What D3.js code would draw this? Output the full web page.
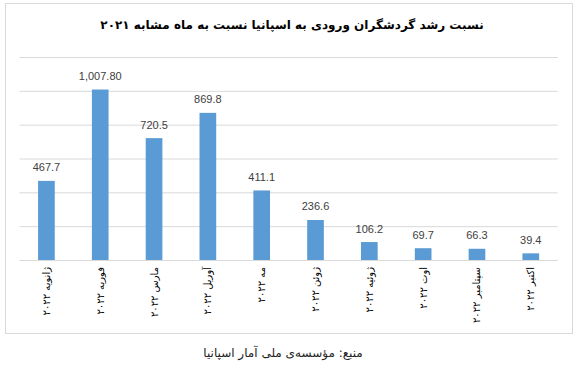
<!DOCTYPE html>
<html>
<head>
<meta charset="utf-8">
<script src="https://cdn.jsdelivr.net/npm/d3@7"></script>
<style>
  html, body { margin: 0; padding: 0; background: #ffffff; }
  svg { display: block; }
</style>
</head>
<body>
<script>
const title = "نسبت رشد گردشگران ورودی به اسپانیا نسبت به ماه مشابه ۲۰۲۱";
const source = "منبع: مؤسسه‌ی ملی آمار اسپانیا";
const categories = ["ژانویه ۲۰۲۲","فوریه ۲۰۲۲","مارس ۲۰۲۲","آوریل ۲۰۲۲","مه ۲۰۲۲","ژوئن ۲۰۲۲","ژوئیه ۲۰۲۲","اوت ۲۰۲۲","سپتامبر ۲۰۲۲","اکتبر ۲۰۲۲"];
const values = [467.7, 1007.8, 720.5, 869.8, 411.1, 236.6, 106.2, 69.7, 66.3, 39.4];
const valueLabels = ["467.7","1,007.80","720.5","869.8","411.1","236.6","106.2","69.7","66.3","39.4"];
const gridTicks = [0, 200, 400, 600, 800, 1000, 1200];

const W = 586, H = 384;
const svg = d3.select("body").append("svg").attr("width", W).attr("height", H);

// outer frame
svg.append("rect")
  .attr("x", 5.5).attr("y", 3.5).attr("width", 567).attr("height", 330)
  .attr("fill", "#ffffff").attr("stroke", "#d9d9d9").attr("stroke-width", 1);

const x = d3.scaleBand().domain(categories).range([19.5, 557.7]).paddingInner(0.69).paddingOuter(0.345);
const y = d3.scaleLinear().domain([0, 1200]).range([260, 57]);

// gridlines
const yAxis = d3.axisLeft(y).tickValues(gridTicks).tickSize(-(557.7 - 19.5)).tickFormat("");
const gy = svg.append("g").attr("transform", "translate(19.5,0)").call(yAxis);
gy.select(".domain").remove();
gy.selectAll(".tick line").attr("stroke", "#d9d9d9").attr("stroke-width", 1);

// bars
svg.append("g").selectAll("rect").data(values).join("rect")
  .attr("x", (d, i) => x(categories[i]))
  .attr("y", d => y(d))
  .attr("width", x.bandwidth())
  .attr("height", d => y(0) - y(d))
  .attr("fill", "#5b9bd5");

// value labels
svg.append("g").selectAll("text").data(values).join("text")
  .attr("x", (d, i) => x(categories[i]) + x.bandwidth() / 2)
  .attr("y", d => y(d) - 9.5)
  .attr("text-anchor", "middle")
  .attr("font-family", "'Liberation Sans', Arial, sans-serif")
  .attr("font-size", 11)
  .attr("fill", "#404040")
  .text((d, i) => valueLabels[i]);

// category labels (rotated)
svg.append("g").selectAll("text").data(categories).join("text")
  .attr("transform", d => `translate(${x(d) + x.bandwidth() / 2},267) rotate(-90)`)
  .attr("text-anchor", "end")
  .attr("dy", "0.35em")
  .attr("font-family", "'DejaVu Sans', sans-serif")
  .attr("font-size", 10)
  .attr("fill", "#000000")
  .text(d => d);

// title
svg.append("text")
  .attr("x", 292).attr("y", 29)
  .attr("text-anchor", "middle")
  .attr("font-family", "'DejaVu Sans', sans-serif")
  .attr("font-weight", "bold")
  .attr("font-size", 12)
  .attr("fill", "#000000")
  .text(title);

// source
svg.append("text")
  .attr("x", 283).attr("y", 357)
  .attr("text-anchor", "middle")
  .attr("font-family", "'DejaVu Sans', sans-serif")
  .attr("font-size", 12)
  .attr("fill", "#222222")
  .text(source);
</script>
</body>
</html>
